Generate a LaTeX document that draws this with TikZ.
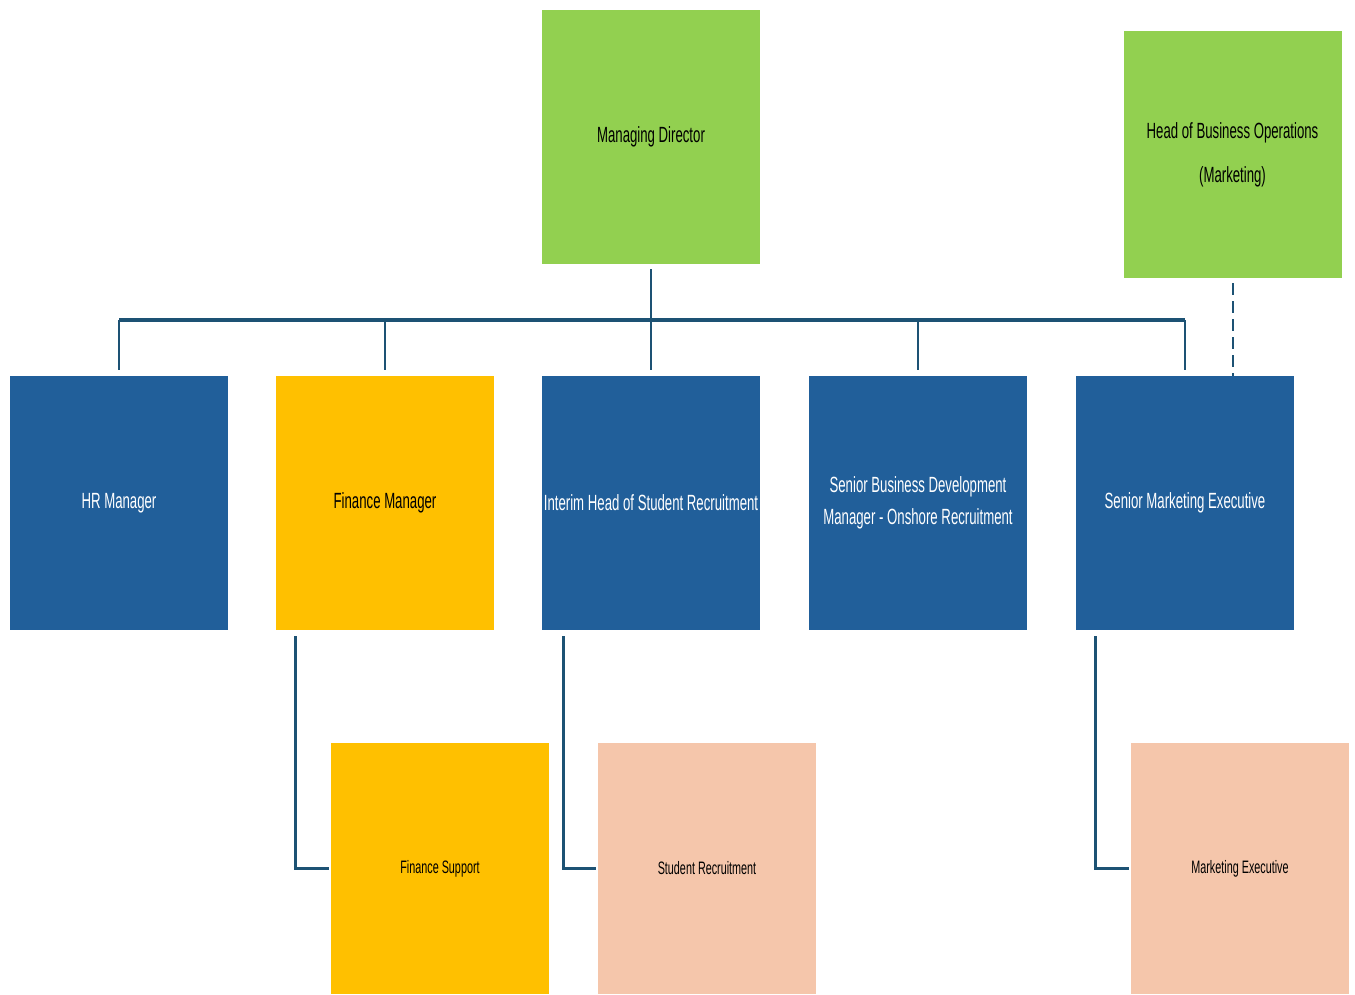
\documentclass[tikz,border=0pt]{standalone}
\usepackage{fontspec}
\setmainfont{Liberation Sans}[FakeStretch=0.6]
\definecolor{mdgreen}{HTML}{92D050}
\definecolor{rolblue}{HTML}{215F9A}
\definecolor{finyel}{HTML}{FFC000}
\definecolor{peach}{HTML}{F5C6AB}
\definecolor{linkcol}{HTML}{1D5274}
\tikzset{
  role/.style={inner sep=0pt, minimum width=218pt, minimum height=254pt, align=center, font=\fontsize{22}{32}\selectfont},
  subrole/.style={role, minimum height=251pt, font=\fontsize{18}{24}\selectfont},
  green/.style={fill=mdgreen, text=black},
  blue/.style={fill=rolblue, text=white},
  yellow/.style={fill=finyel, text=black},
  salmon/.style={fill=peach, text=black},
  link/.style={draw=linkcol, line width=2pt},
  bar/.style={draw=linkcol, line width=4.5pt},
  sublink/.style={draw=linkcol, line width=3pt},
  dotted link/.style={draw=linkcol, line width=2pt, dash pattern=on 12pt off 6pt}
}
\begin{document}
\begin{tikzpicture}[x=1pt, y=-1pt]
\useasboundingbox (0,0) rectangle (1355,994);

% top level
\node[role, green] (md) at (651,137) {Managing Director};
\node[role, green, minimum height=247pt] (hbo) at (1232.5,154.5) {Head of Business Operations\\[12pt](Marketing)};

% second level
\node[role, blue]   (hr)  at (119,503)  {HR Manager};
\node[role, yellow] (fm)  at (385,503)  {Finance Manager};
\node[role, blue]   (ih)  at (651,503)  {Interim Head of Student Recruitment};
\node[role, blue]   (sbd) at (918,503)  {Senior Business Development\\Manager - Onshore Recruitment};
\node[role, blue]   (sme) at (1185,503) {Senior Marketing Executive};

% third level
\node[subrole, yellow] (fs) at (440,868.5)  {Finance Support};
\node[subrole, salmon] (sr) at (707,868.5)  {Student Recruitment};
\node[subrole, salmon] (me) at (1240,868.5) {Marketing Executive};

% main reporting bus
\coordinate (busy) at (0,320);
\draw[link, shorten <=5pt] (md.south) -- (md.south |- busy);
\draw[bar] (hr.north |- busy) -- (sme.north |- busy);
\foreach \n in {hr,fm,ih,sbd,sme}
  \draw[link, shorten >=6pt] (\n.north |- busy) -- (\n.north);

% dotted line to marketing
\draw[dotted link, shorten <=5pt] (hbo.south) -- (hbo.south |- sme.north);

% second to third level
\draw[sublink, shorten >=2pt] ([xshift=20pt, yshift=-6pt]fm.south west) |- (fs.west);
\draw[sublink, shorten >=2pt] ([xshift=22pt, yshift=-6pt]ih.south west) |- (sr.west);
\draw[sublink, shorten >=2pt] ([xshift=20pt, yshift=-6pt]sme.south west) |- (me.west);
\end{tikzpicture}
\end{document}
